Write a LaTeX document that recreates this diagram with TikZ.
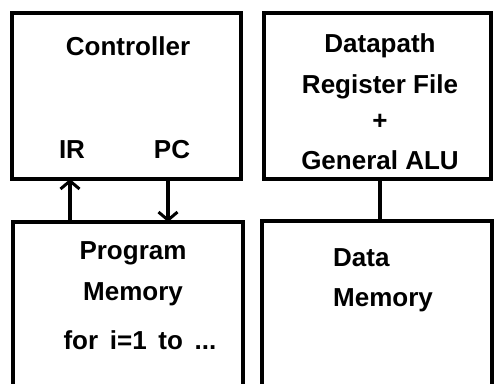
\documentclass[tikz,border=0pt]{standalone}
\usepackage{fontspec}
\setmainfont{Liberation Sans}
\usetikzlibrary{arrows.meta}
\begin{document}
\begin{tikzpicture}[x=1pt,y=-1pt,
  box/.style={draw,line width=3.3pt,rectangle,outer sep=0pt,inner sep=0pt},
  lbl/.style={font=\fontsize{26}{30}\selectfont\bfseries,inner sep=0pt},
  conn/.style={line width=3.5pt},
  arr/.style={conn,-{Straight Barb[length=8pt,width=19pt,line width=3pt]}}]
\useasboundingbox (0,0) rectangle (494,383);
\clip (0,0) rectangle (494,383);
\node[box,minimum width=229pt,minimum height=166pt] (ctrl) at (126.5,96) {};
\node[box,minimum width=227pt,minimum height=166pt] (dp) at (377.5,96) {};
\node[box,minimum width=230pt,minimum height=180pt] (pm) at (128,312) {};
\node[box,minimum width=230pt,minimum height=180pt] (dm) at (377,311) {};
\node[lbl] (tc) at (128,46) {Controller};
\node[lbl] (ir) at (72,150) {IR};
\node[lbl] (pc) at (172,150) {PC};
\node[lbl] (td) at (380,46) {Datapath};
\node[lbl] (trf) at (380,87) {Register File};
\node[lbl] (tplus) at (380,122) {+};
\node[lbl] (tal) at (380,160) {General ALU};
\node[lbl] (tp) at (133,253) {Program};
\node[lbl] (tm) at (133,294) {Memory};
\node[lbl] (tf) at (140,340) {\spaceskip=0.45em for i=1 to ...};
\node[lbl,anchor=west] (tdd) at (333,258) {Data};
\node[lbl,anchor=west] (tdm) at (333,300) {Memory};
\coordinate (irx) at (70,0);
\coordinate (pcx) at (168,0);
\coordinate (dx) at (380,0);
\draw[arr] (pm.north -| irx) -- (ctrl.south -| irx);
\draw[arr] (ctrl.south -| pcx) -- (pm.north -| pcx);
\draw[conn] (dp.south -| dx) -- (dm.north -| dx);
\end{tikzpicture}
\end{document}
